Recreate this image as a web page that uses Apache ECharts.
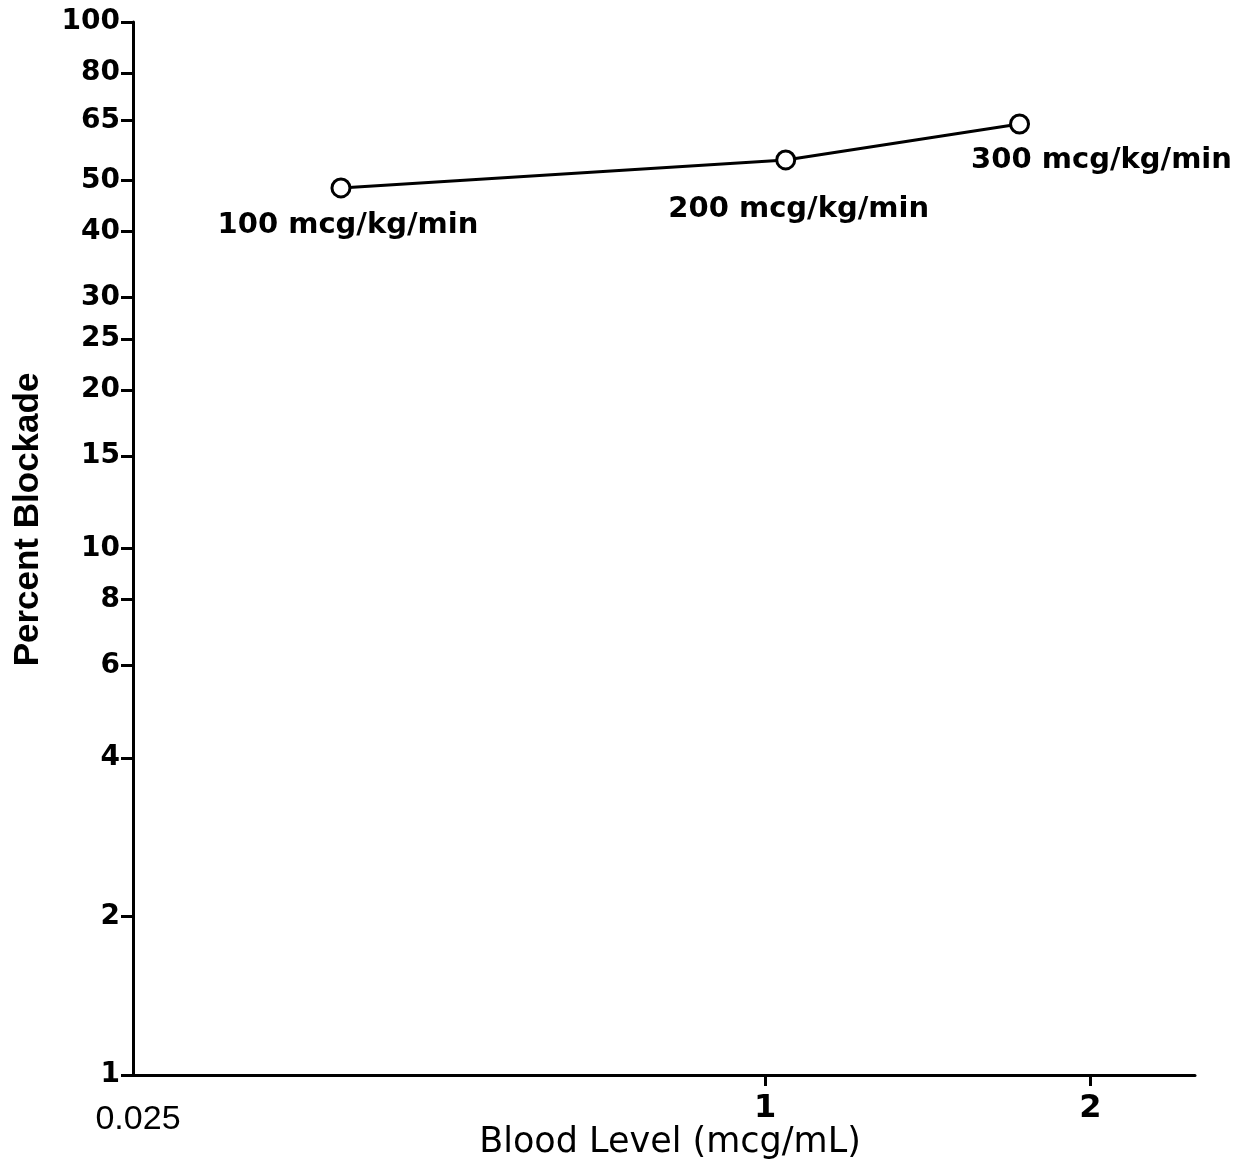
<!DOCTYPE html>
<html>
<head>
<meta charset="utf-8">
<script src="https://cdn.jsdelivr.net/npm/echarts@6/dist/echarts.min.js"></script>
<style>
  html, body { margin: 0; padding: 0; background: #fff; }
  #chart { width: 1246px; height: 1166px; }
</style>
</head>
<body>
<div id="chart"></div>
<script>
// ---- data ----
const doseLabels = ['100 mcg/kg/min', '200 mcg/kg/min', '300 mcg/kg/min'];
const bloodLevel = [0.405, 1.045, 1.72];    // mcg/mL
const percentBlockade = [48.4, 54.7, 64.0]; // %

const yTickValues = [1, 2, 4, 6, 8, 10, 15, 20, 25, 30, 40, 50, 65, 80, 100];
const yTickLabels = ['1', '2', '4', '6', '8', '10', '15', '20', '25', '30', '40', '50', '65', '80', '100'];
const xTickValues = [0.26, 1, 2];
const xTickLabels = ['0.025', '1', '2'];
const xTickMarks = [1, 2];

const labelOffsets = [[7, 38], [13, 50], [82, 36]];

const chart = echarts.init(document.getElementById('chart'), null, { renderer: 'canvas' });

const seriesData = bloodLevel.map((x, i) => ({
  value: [x, percentBlockade[i]],
  name: doseLabels[i],
  label: { offset: labelOffsets[i] }
}));

chart.setOption({
  animation: false,
  backgroundColor: '#ffffff',
  grid: { left: 133, right: 51, top: 22, bottom: 91, containLabel: false, outerBoundsMode: 'none' },
  xAxis: {
    type: 'log',
    logBase: 10,
    min: 0.26,
    max: 2.5,
    name: 'Blood Level (mcg/mL)',
    nameLocation: 'middle',
    nameGap: 50,
    nameMoveOverlap: false,
    nameTextStyle: { fontFamily: 'DejaVu Sans', fontSize: 35, color: '#000', padding: [0, 0, 0, 12] },
    axisLine: { show: true, lineStyle: { color: '#000', width: 3 } },
    axisTick: { show: true, inside: false, length: 11, customValues: xTickMarks, lineStyle: { color: '#000', width: 3 } },
    axisLabel: {
      customValues: xTickValues,
      margin: 18,
      formatter: function (v) {
        const idx = xTickValues.findIndex(t => Math.abs(t - v) < 1e-6);
        const txt = idx >= 0 ? xTickLabels[idx] : '';
        return idx === 0 ? '{a|' + txt + '}' : '{b|' + txt + '}';
      },
      rich: {
        a: { fontFamily: 'Liberation Sans', fontSize: 34, color: '#000', padding: [10, 0, 0, 10] },
        b: { fontFamily: 'DejaVu Sans', fontWeight: 'bold', fontSize: 32, color: '#000' }
      }
    },
    splitLine: { show: false },
    minorTick: { show: false }
  },
  yAxis: {
    type: 'log',
    logBase: 10,
    min: 1,
    max: 100,
    name: 'Percent Blockade',
    nameLocation: 'middle',
    nameGap: 87,
    nameRotate: 90,
    nameMoveOverlap: false,
    nameTextStyle: { fontFamily: 'Liberation Sans', fontWeight: 'bold', fontSize: 35, color: '#000', padding: [0, 0, 0, 58] },
    axisLine: { show: true, lineStyle: { color: '#000', width: 3 } },
    axisTick: { show: true, inside: false, length: 12, customValues: yTickValues, lineStyle: { color: '#000', width: 3 } },
    axisLabel: {
      customValues: yTickValues,
      margin: 13,
      fontFamily: 'DejaVu Sans',
      fontWeight: 'bold',
      fontSize: 28,
      color: '#000',
      formatter: function (v) {
        const idx = yTickValues.findIndex(t => Math.abs(t - v) < 1e-6);
        return idx >= 0 ? yTickLabels[idx] : '';
      }
    },
    splitLine: { show: false },
    minorTick: { show: false }
  },
  series: [{
    type: 'line',
    data: seriesData,
    symbol: 'circle',
    symbolSize: 18,
    lineStyle: { color: '#000', width: 3 },
    itemStyle: { color: '#fff', borderColor: '#000', borderWidth: 3 },
    label: {
      show: true,
      position: 'inside',
      formatter: function (p) { return p.name; },
      fontFamily: 'DejaVu Sans',
      fontWeight: 'bold',
      fontSize: 29,
      color: '#000'
    },
    emphasis: { disabled: true }
  }]
});
</script>
</body>
</html>
